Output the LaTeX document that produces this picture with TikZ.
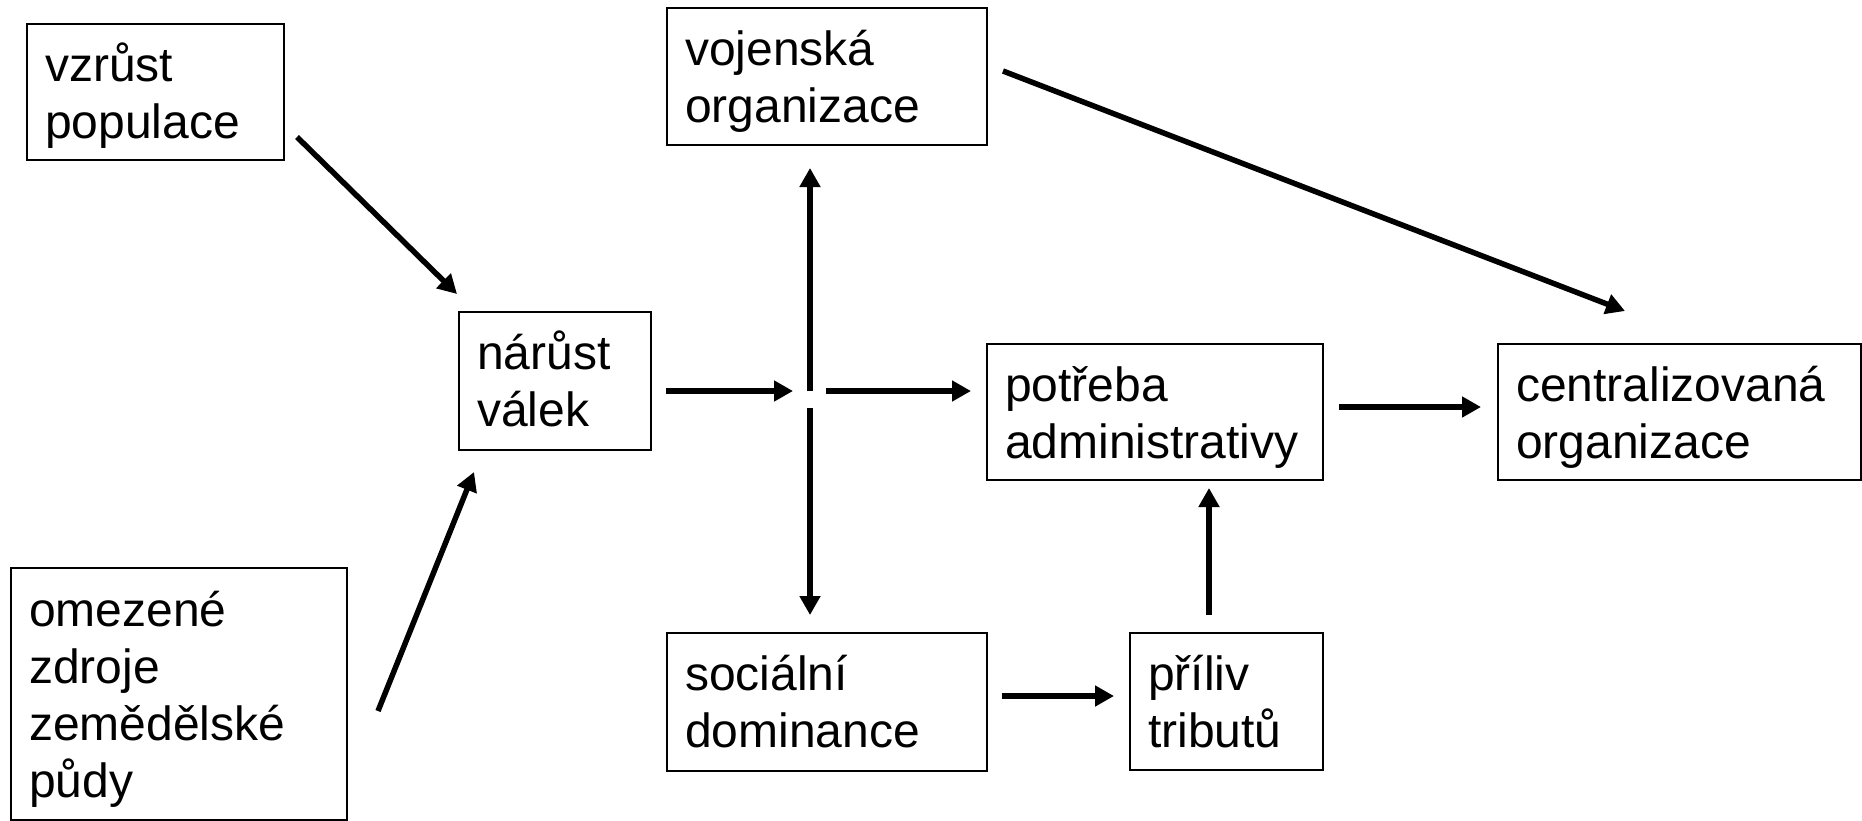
\documentclass[tikz,border=0pt]{standalone}
\usepackage{fontspec}
\setmainfont{Liberation Sans}
\usetikzlibrary{arrows.meta,calc}
\begin{document}
\begin{tikzpicture}[x=1pt,y=-1pt,
  box/.style={draw, line width=2pt, inner sep=0pt, anchor=north west},
  txt/.style={inner sep=0pt, anchor=base west, font=\fontsize{48}{57}\selectfont},
  arr/.style={line width=5.5pt, -{Triangle[length=19pt,width=20pt]}}]
\useasboundingbox (0,0) rectangle (1862,820);
% boxes
\node[box, minimum width=257pt, minimum height=136pt] (pop) at (26,23) {};
\node[box, minimum width=336pt, minimum height=252pt] (omez) at (10,567) {};
\node[box, minimum width=192pt, minimum height=138pt] (nar) at (458,311) {};
\node[box, minimum width=320pt, minimum height=137pt] (voj) at (666,7) {};
\node[box, minimum width=336pt, minimum height=136pt] (pot) at (986,343) {};
\node[box, minimum width=363pt, minimum height=136pt] (cen) at (1497,343) {};
\node[box, minimum width=320pt, minimum height=138pt] (soc) at (666,632) {};
\node[box, minimum width=193pt, minimum height=137pt] (pril) at (1129,632) {};
% texts
\node[txt] (popt) at ($(pop.north west)+(19,58)$) {\parbox[t]{400pt}{vzrůst\\populace}};
\node[txt] (omezt) at ($(omez.north west)+(19,59)$) {\parbox[t]{400pt}{omezené\\zdroje\\zemědělské\\půdy}};
\node[txt] (nart) at ($(nar.north west)+(19,58)$) {\parbox[t]{400pt}{nárůst\\válek}};
\node[txt] (vojt) at ($(voj.north west)+(19,58)$) {\parbox[t]{400pt}{vojenská\\organizace}};
\node[txt] (pott) at ($(pot.north west)+(19,58)$) {\parbox[t]{400pt}{potřeba\\administrativy}};
\node[txt] (cent) at ($(cen.north west)+(19,58)$) {\parbox[t]{400pt}{centralizovaná\\organizace}};
\node[txt] (soct) at ($(soc.north west)+(19,58)$) {\parbox[t]{400pt}{sociální\\dominance}};
\node[txt] (prilt) at ($(pril.north west)+(19,58)$) {\parbox[t]{400pt}{příliv\\tributů}};
% connector ends
\coordinate (a1) at (297,137);   \coordinate (b1) at (457,294);
\coordinate (a2) at (378,711);   \coordinate (b2) at (474,472);
\coordinate (a3) at (666,391);   \coordinate (b3) at (793,391);
\coordinate (a4) at (810,391);   \coordinate (b4) at (810,168);
\coordinate (a5) at (810,408);   \coordinate (b5) at (810,615);
\coordinate (a6) at (826,391);   \coordinate (b6) at (971,391);
\coordinate (a7) at (1003,71);   \coordinate (b7) at (1625,311);
\coordinate (a8) at (1339,407);  \coordinate (b8) at (1481,407);
\coordinate (a9) at (1002,696);  \coordinate (b9) at (1114,696);
\coordinate (a10) at (1209,615); \coordinate (b10) at (1209,488);
% arrows
\draw[arr] (a1) -- (b1);
\draw[arr] (a2) -- (b2);
\draw[arr] (a3) -- (b3);
\draw[arr] (a4) -- (b4);
\draw[arr] (a5) -- (b5);
\draw[arr] (a6) -- (b6);
\draw[arr] (a7) -- (b7);
\draw[arr] (a8) -- (b8);
\draw[arr] (a9) -- (b9);
\draw[arr] (a10) -- (b10);
\end{tikzpicture}
\end{document}
